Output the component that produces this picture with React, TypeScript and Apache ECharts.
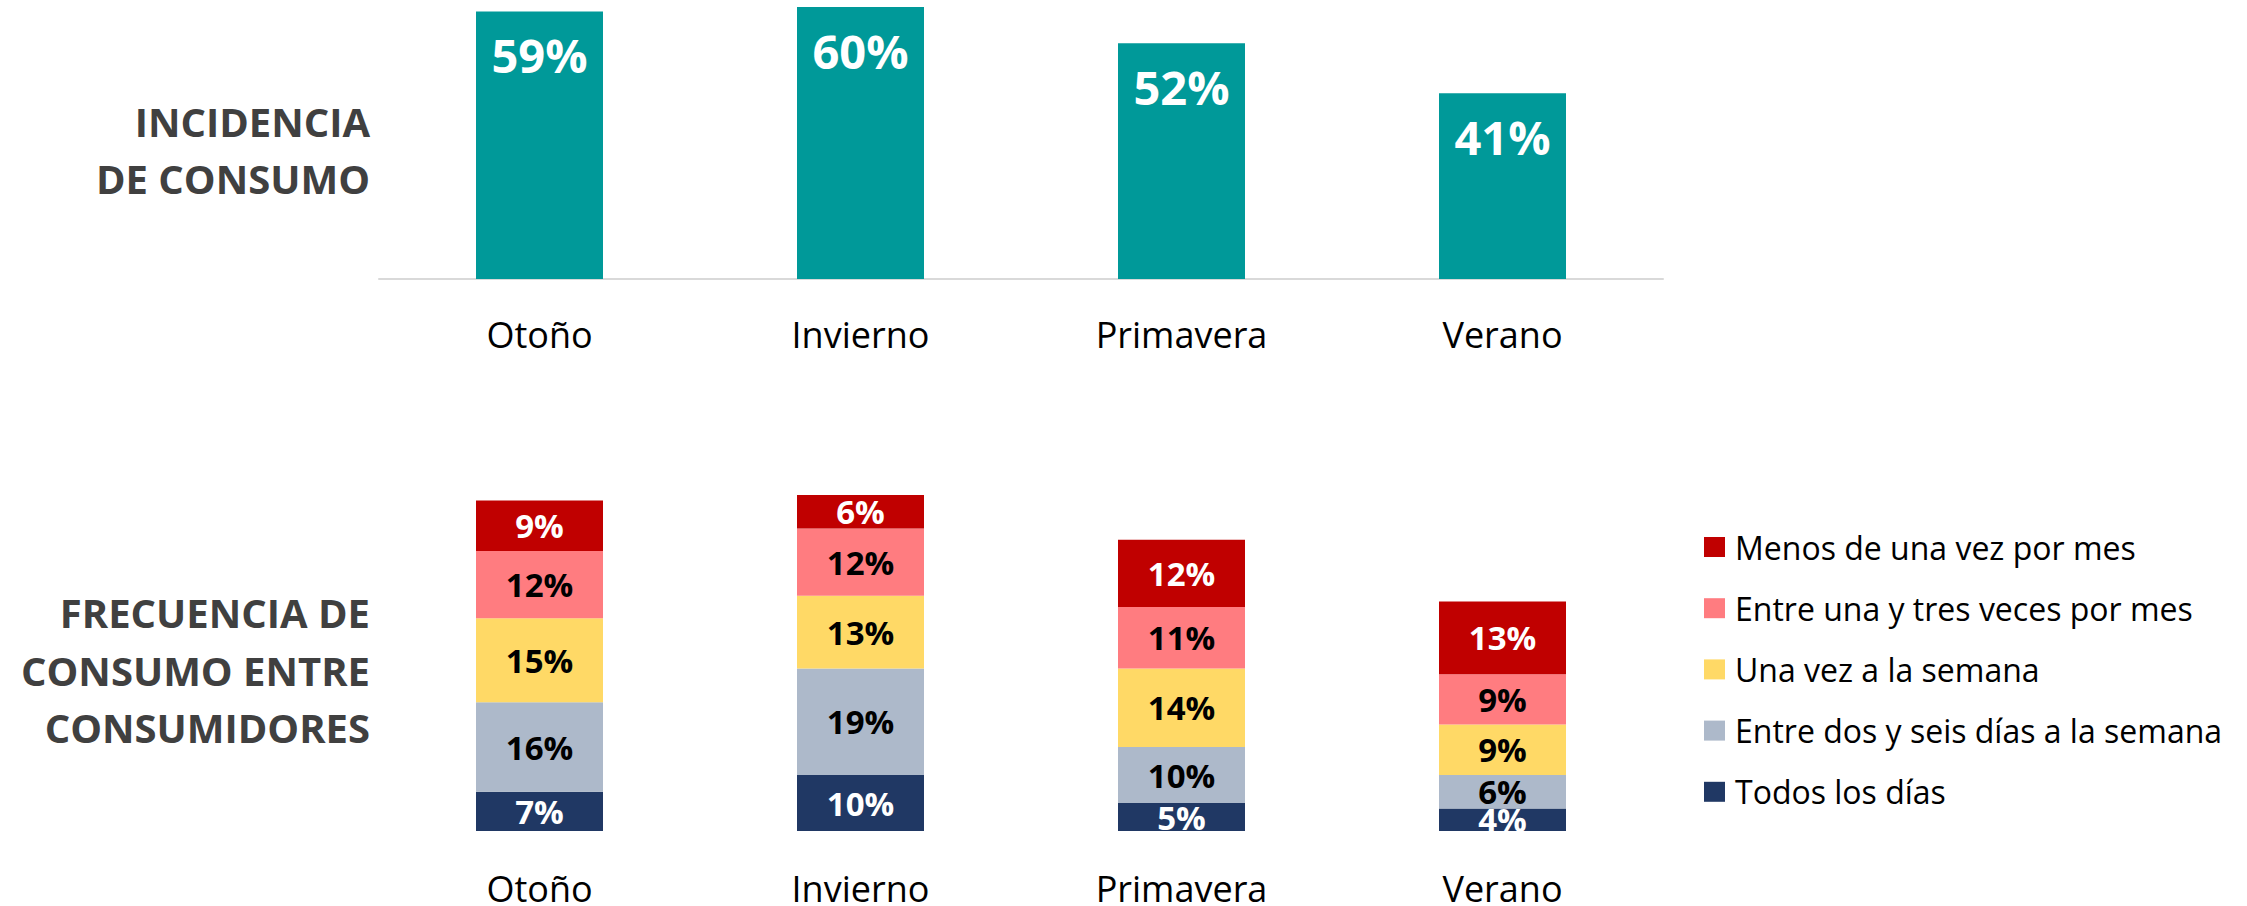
import React, { useEffect, useRef } from 'react';
import * as echarts from 'echarts';

const categories = ['Otoño', 'Invierno', 'Primavera', 'Verano'];
const incidencia = [59, 60, 52, 41];

const todosLosDias = [7, 10, 5, 4];
const dosASeisDias = [16, 19, 10, 6];
const unaVezSemana = [15, 13, 14, 9];
const unaATresMes = [12, 12, 11, 9];
const menosUnaVezMes = [9, 6, 12, 13];

const legendNames = [
  'Menos de una vez por mes',
  'Entre una y tres veces por mes',
  'Una vez a la semana',
  'Entre dos y seis días a la semana',
  'Todos los días',
];

const FONT = '"Open Sans", "Noto Sans", sans-serif';

export default function App() {
  const ref = useRef<HTMLDivElement>(null);

  useEffect(() => {
    const chart = echarts.init(ref.current!, null, { renderer: 'svg' });

    const stackDefs = [
      { name: 'Todos los días', data: todosLosDias, color: '#203864', label: '#ffffff' },
      { name: 'Entre dos y seis días a la semana', data: dosASeisDias, color: '#ADB9CA', label: '#000000' },
      { name: 'Una vez a la semana', data: unaVezSemana, color: '#FFD966', label: '#000000' },
      { name: 'Entre una y tres veces por mes', data: unaATresMes, color: '#FF7C80', label: '#000000' },
      { name: 'Menos de una vez por mes', data: menosUnaVezMes, color: '#C00000', label: '#ffffff' },
    ];

    const option: any = {
      animation: false,
      backgroundColor: '#ffffff',
      textStyle: { fontFamily: FONT },
      grid: [
        { left: 379, width: 1284, top: 7, height: 272 },
        { left: 379, width: 1284, top: 495, height: 338.3 },
      ],
      xAxis: [
        {
          type: 'category',
          gridIndex: 0,
          data: categories,
          axisLine: { show: true, lineStyle: { color: '#D9D9D9', width: 2 } },
          axisTick: { show: false },
          axisLabel: { fontSize: 36, lineHeight: 28, color: '#000000', margin: 41, fontFamily: FONT },
        },
        {
          type: 'category',
          gridIndex: 1,
          data: categories,
          axisLine: { show: false },
          axisTick: { show: false },
          axisLabel: { fontSize: 36, lineHeight: 28, color: '#000000', margin: 43, fontFamily: FONT },
        },
      ],
      yAxis: [
        { type: 'value', gridIndex: 0, min: 0, max: 60, show: false, splitLine: { show: false } },
        { type: 'value', gridIndex: 1, min: 0, max: 60, show: false, splitLine: { show: false } },
      ],
      legend: {
        orient: 'vertical',
        left: 1699,
        top: 522,
        itemWidth: 21,
        itemHeight: 20,
        itemGap: 21.2,
        icon: 'rect',
        data: legendNames,
        textStyle: {
          fontSize: 32,
          color: '#000000',
          fontFamily: FONT,
          lineHeight: 40,
          padding: [0, 0, 0, 5],
        },
      },
      series: [
        {
          type: 'bar',
          name: 'Incidencia de consumo',
          xAxisIndex: 0,
          yAxisIndex: 0,
          data: incidencia,
          barWidth: 127,
          itemStyle: { color: '#009999' },
          label: {
            show: true,
            position: 'insideTop',
            distance: 20,
            formatter: '{c}%',
            color: '#ffffff',
            fontSize: 47,
            fontWeight: 'bold',
            fontFamily: FONT,
          },
        },
        ...stackDefs.map((s) => ({
          type: 'bar',
          name: s.name,
          xAxisIndex: 1,
          yAxisIndex: 1,
          stack: 'frecuencia',
          data: s.data,
          barWidth: 127,
          itemStyle: { color: s.color },
          label: {
            show: true,
            position: 'inside',
            formatter: '{c}%',
            color: s.label,
            fontSize: 33,
            fontWeight: 'bold',
            fontFamily: FONT,
          },
        })),
      ],
      graphic: [
        {
          type: 'text',
          x: 370,
          y: 150,
          style: {
            text: 'INCIDENCIA\nDE CONSUMO',
            align: 'right',
            verticalAlign: 'middle',
            lineHeight: 57,
            fill: '#404040',
            font: `bold 40px ${FONT}`,
          },
        },
        {
          type: 'text',
          x: 370,
          y: 670,
          style: {
            text: 'FRECUENCIA DE\nCONSUMO ENTRE\nCONSUMIDORES',
            align: 'right',
            verticalAlign: 'middle',
            lineHeight: 57.5,
            fill: '#404040',
            font: `bold 40px ${FONT}`,
          },
        },
        {
          type: 'rect',
          z: 100,
          shape: { x: 379, y: 834, width: 1284, height: 26 },
          style: { fill: '#ffffff' },
        },
      ],
    };

    chart.setOption(option);
    return () => chart.dispose();
  }, []);

  return (
    <div
      ref={ref}
      style={{ position: 'fixed', left: 0, top: 0, width: 2247, height: 906, background: '#ffffff' }}
    />
  );
}
